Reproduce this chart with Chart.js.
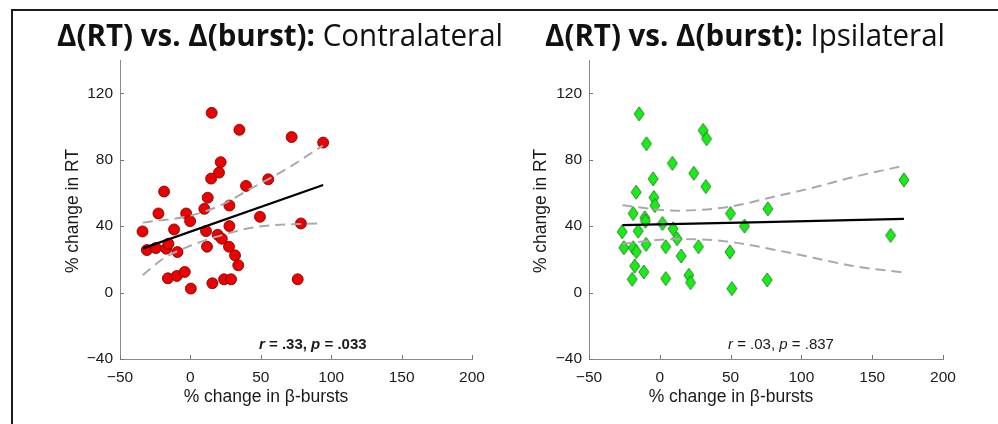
<!DOCTYPE html>
<html>
<head>
<meta charset="utf-8">
<script src="https://cdn.jsdelivr.net/npm/chart.js@4.4.1/dist/chart.umd.min.js"></script>
<style>
  html, body { margin: 0; padding: 0; background: #fff; }
  #page { position: relative; width: 998px; height: 424px; overflow: hidden; background: #fff; }
  #frame { position: absolute; left: 11px; top: 9px; width: 1100px; height: 600px;
           border-left: 2px solid #1c1c1c; border-top: 2px solid #1c1c1c; }
  .panel { position: absolute; top: 0; height: 424px; }
  #left { left: 0; width: 530px; }
  #right { left: 499px; width: 499px; }
</style>
</head>
<body>
<div id="page">
  <div id="frame"></div>
  <div class="panel" id="left"><canvas id="contra" width="530" height="424"></canvas></div>
  <div class="panel" id="right"><canvas id="ipsi" width="499" height="424"></canvas></div>
</div>
<script>
// axis ticks (same for both panels)
const xTicks = [-50, 0, 50, 100, 150, 200];
const yTicks = [-40, 0, 40, 80, 120];

// Contralateral: % change in beta-bursts vs % change in RT
const contraX = [15.1, 34.8, 71.9, 94.3, 21.5, 20.3, 14.7, 55.3, -18.7, 39.5, 12.3,
  -34.0, -22.7, -3.0, -0.2, -11.6, -30.9, -24.5, -17.2, -15.6, -9.2, -16.0, -9.6, -4.0, 0.3,
  9.9, 11.1, 11.8, 15.6, 19.4, 22.3, 27.7, 27.7, 27.4, 31.7, 34.0, 23.9, 28.9, 49.4, 78.5, 76.2];
const contraY = [108.2, 98.0, 93.6, 90.3, 78.5, 72.2, 68.6, 68.2, 60.8, 64.2, 57.1,
  36.8, 47.6, 47.6, 43.0, 38.0, 25.6, 26.8, 26.4, 29.4, 24.4, 8.6, 10.0, 12.4, 2.4,
  50.4, 37.0, 27.6, 5.6, 34.8, 32.4, 52.4, 40.0, 27.6, 22.4, 16.4, 8.0, 8.0, 45.6, 41.6, 8.0];
const contraFitX = [-33.8, 94.3];
const contraFitY = [26.6, 64.8];
const contraUpX = [-33.8, 0, 21, 44.7, 68.3, 94];
const contraUpY = [42.1, 46.3, 52.3, 63.4, 74.4, 88.5];
const contraLoX = [-33.8, -19.1, 0, 21, 44.7, 94];
const contraLoY = [10.5, 20.5, 28.2, 34.2, 39.2, 41.8];

// Ipsilateral
const ipsiX = [-14.6, -9.4, 30.6, 33.0, 8.9, 24.0, -4.7, 32.5, -16.7, -4.2, -3.5, 172.4, 76.3, 49.9,
  -18.8, -10.6, -10.1, 1.9, 9.4, 59.8, -26.6, -15.3, 12.2, 163.0, -25.4, -18.8, -16.5, -9.7, 4.2,
  27.3, 15.1, 49.5, -17.7, -11.3, -19.5, 4.2, 20.5, 21.7, 75.8, 50.9];
const ipsiY = [107.6, 89.6, 97.6, 92.6, 77.8, 71.8, 68.4, 63.8, 60.4, 57.2, 52.4, 67.8, 50.4, 47.6,
  47.6, 45.0, 43.0, 41.6, 38.4, 40.0, 36.6, 37.0, 32.4, 34.4, 27.0, 27.0, 24.6, 29.0, 27.6,
  27.6, 22.0, 24.4, 16.0, 12.4, 8.0, 8.4, 10.4, 6.0, 7.6, 2.4];
const ipsiFitX = [-26.4, 172.4];
const ipsiFitY = [40.6, 44.3];
const ipsiUpX = [-26.4, 11.8, 49.5, 77.7, 106, 136.6, 172.4];
const ipsiUpY = [52.5, 49.3, 51.7, 57.1, 62.7, 69.5, 76.4];
const ipsiLoX = [-26.4, 11.8, 47, 91.9, 136.6, 172.4];
const ipsiLoY = [29.4, 32.2, 30.8, 23.9, 16.0, 12.0];

const titleBold = 'Δ(RT) vs. Δ(burst):';
const xLabel = '% change in β-bursts';
const yLabel = '% change in RT';

const pts = (xs, ys) => xs.map((x, i) => ({ x: x, y: ys[i] }));

function diamond(w, h, fill, stroke) {
  const c = document.createElement('canvas');
  c.width = w + 2; c.height = h + 2;
  const g = c.getContext('2d');
  g.beginPath();
  g.moveTo(c.width / 2, 1);
  g.lineTo(c.width - 1, c.height / 2);
  g.lineTo(c.width / 2, c.height - 1);
  g.lineTo(1, c.height / 2);
  g.closePath();
  g.fillStyle = fill; g.fill();
  g.lineWidth = 0.9; g.strokeStyle = stroke; g.stroke();
  return c;
}

function drawTitle(ctx, x, base, bold, reg, width) {
  ctx.save();
  ctx.font = 'bold 31px "Open Sans"';
  const w1 = ctx.measureText(bold + ' ').width;
  ctx.font = '31px "Open Sans"';
  const w2 = ctx.measureText(reg).width;
  const sx = width / (w1 + w2);
  ctx.translate(x, base);
  ctx.scale(sx, 1);
  ctx.fillStyle = '#111';
  ctx.textBaseline = 'alphabetic';
  ctx.textAlign = 'left';
  ctx.font = 'bold 31px "Open Sans"';
  ctx.fillText(bold, 0, 0);
  ctx.font = '31px "Open Sans"';
  ctx.fillText(reg, w1, 0);
  ctx.restore();
}

const decor = {
  id: 'decor',
  afterDraw(chart, args, o) {
    const ctx = chart.ctx, a = chart.chartArea;
    const xs = chart.scales.x, ys = chart.scales.y;
    ctx.save();
    // inward tick marks
    ctx.strokeStyle = '#777'; ctx.lineWidth = 1;
    xs.ticks.forEach(t => {
      const px = Math.round(xs.getPixelForValue(t.value)) + 0.5;
      ctx.beginPath(); ctx.moveTo(px, a.bottom); ctx.lineTo(px, a.bottom - 4); ctx.stroke();
    });
    ys.ticks.forEach(t => {
      const py = Math.round(ys.getPixelForValue(t.value)) + 0.5;
      ctx.beginPath(); ctx.moveTo(a.left, py); ctx.lineTo(a.left + 4, py); ctx.stroke();
    });
    // panel title
    drawTitle(ctx, o.titleX, 46, titleBold, o.title, o.titleW);
    // axis titles
    ctx.fillStyle = '#1a1a1a';
    ctx.font = '17.5px "Liberation Sans", Arial, sans-serif';
    ctx.textAlign = 'center'; ctx.textBaseline = 'middle';
    ctx.fillText(xLabel, o.xLabelX, 397);
    ctx.save();
    ctx.translate(o.yLabelX, 211);
    ctx.rotate(-Math.PI / 2);
    ctx.fillText(yLabel, 0, 0);
    ctx.restore();
    // statistics text
    ctx.textAlign = 'left'; ctx.textBaseline = 'alphabetic';
    let x = o.statX;
    o.stats.forEach((s, i) => {
      const ital = i % 2 === 0 ? 'italic ' : '';
      ctx.font = ital + (o.statBold ? 'bold ' : '') + '15px "Liberation Sans", Arial, sans-serif';
      ctx.fillText(s, x, 349);
      x += ctx.measureText(s).width;
    });
    ctx.restore();
  }
};

function makeChart(id, cfg) {
  const lineDs = (xs, ys, dashed) => ({
    data: pts(xs, ys),
    showLine: true,
    pointRadius: 0,
    borderColor: dashed ? '#a9a9a9' : '#000',
    borderWidth: dashed ? 2 : 2.2,
    borderDash: dashed ? [10, 6] : [],
    cubicInterpolationMode: 'monotone',
    fill: false
  });
  return new Chart(document.getElementById(id), {
    type: 'scatter',
    data: {
      datasets: [
        lineDs(cfg.fitX, cfg.fitY, false),
        lineDs(cfg.upX, cfg.upY, true),
        lineDs(cfg.loX, cfg.loY, true),
        Object.assign({ data: pts(cfg.x, cfg.y) }, cfg.marker)
      ]
    },
    options: {
      responsive: false,
      animation: false,
      layout: { padding: { top: 60, right: cfg.rightPad, left: 0, bottom: 0 } },
      plugins: {
        legend: { display: false },
        tooltip: { enabled: false },
        decor: cfg.decor
      },
      scales: {
        x: {
          type: 'linear', min: -50, max: 200,
          afterBuildTicks: s => { s.ticks = xTicks.map(v => ({ value: v })); },
          afterFit: s => { s.height = 65; },
          grid: { display: false, drawTicks: false },
          border: { display: true, color: '#8a8a8a', width: 1 },
          ticks: {
            color: '#1a1a1a', padding: 9, maxRotation: 0,
            font: { family: '"Liberation Sans", Arial, sans-serif', size: 15.5 },
            callback: v => String(v).replace('-', '\u2212')
          }
        },
        y: {
          type: 'linear', min: -40, max: 140,
          afterBuildTicks: s => { s.ticks = yTicks.map(v => ({ value: v })); },
          afterFit: s => { s.width = cfg.yWidth; },
          grid: { display: false, drawTicks: false },
          border: { display: true, color: '#8a8a8a', width: 1 },
          ticks: {
            color: '#1a1a1a', padding: 7,
            font: { family: '"Liberation Sans", Arial, sans-serif', size: 15.5 },
            callback: v => String(v).replace('-', '\u2212')
          }
        }
      }
    },
    plugins: [decor]
  });
}

makeChart('contra', {
  x: contraX, y: contraY,
  fitX: contraFitX, fitY: contraFitY,
  upX: contraUpX, upY: contraUpY, loX: contraLoX, loY: contraLoY,
  yWidth: 120, rightPad: 58,
  marker: { pointStyle: 'circle', pointRadius: 5.5, backgroundColor: '#ec0000',
            borderColor: '#6e0000', borderWidth: 0.8 },
  decor: { title: 'Contralateral', titleX: 57, titleW: 446, xLabelX: 266, yLabelX: 73,
           stats: ['r', ' = .33, ', 'p', ' = .033'], statX: 259, statBold: true }
});

makeChart('ipsi', {
  x: ipsiX, y: ipsiY,
  fitX: ipsiFitX, fitY: ipsiFitY,
  upX: ipsiUpX, upY: ipsiUpY, loX: ipsiLoX, loY: ipsiLoY,
  yWidth: 90, rightPad: 55,
  marker: { pointStyle: diamond(10, 14, '#14f014', '#2b6b2b'), pointRadius: 6 },
  decor: { title: 'Ipsilateral', titleX: 46, titleW: 400, xLabelX: 232, yLabelX: 42,
           stats: ['r', ' = .03, ', 'p', ' = .837'], statX: 229, statBold: false }
});
</script>
</body>
</html>
